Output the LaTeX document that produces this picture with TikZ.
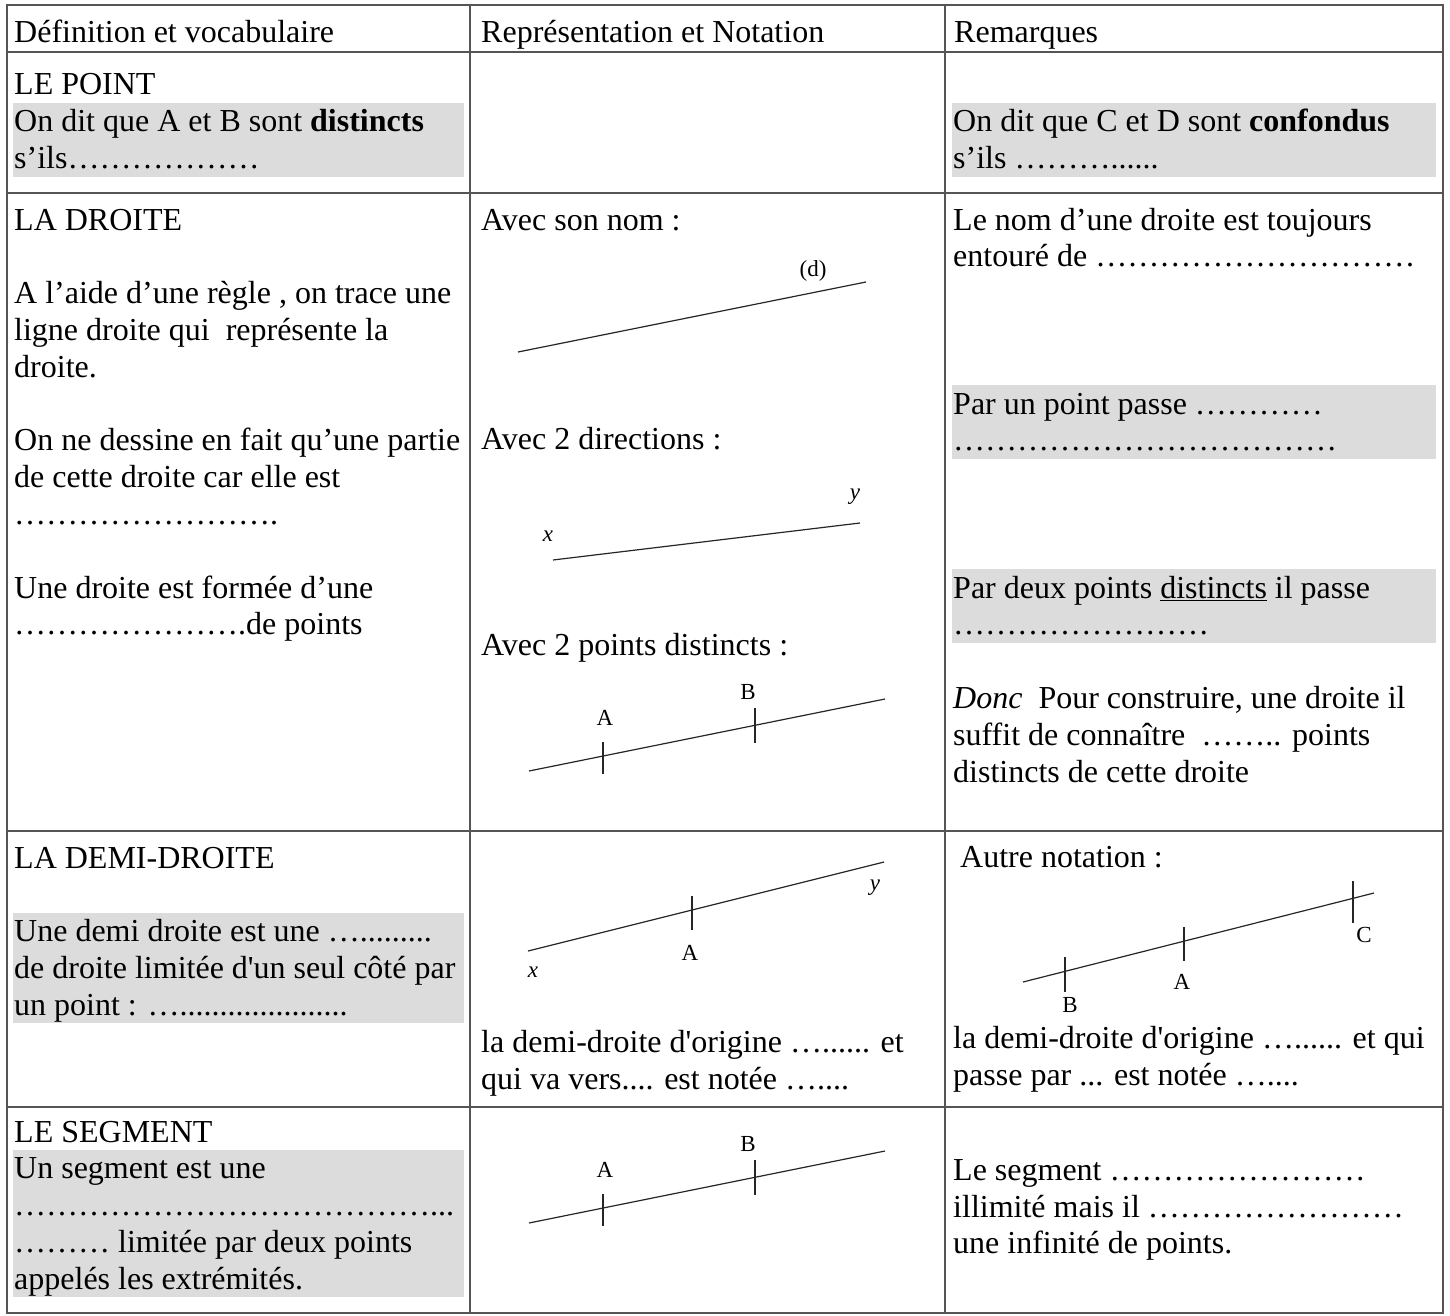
\documentclass[tikz,border=0pt]{standalone}
\usepackage{fontspec}
\newfontfamily\tnr{Liberation Serif}
\definecolor{boxgray}{RGB}{220,220,220}
\definecolor{rulegray}{RGB}{85,85,85}
\newcommand{\ellips}[1]{\foreach \i in {1,...,#1}{…}}
\begin{document}
\begin{tikzpicture}[x=1pt,y=-1pt,
  txt/.style={anchor=base west, inner sep=0pt, font=\tnr\fontsize{32}{36.8}\selectfont},
  lbl/.style={inner sep=0pt, font=\tnr\fontsize{23}{26}\selectfont},
  ilbl/.style={inner sep=0pt, font=\tnr\fontsize{23}{26}\selectfont\itshape},
  rule/.style={line width=1.5pt, draw=rulegray},
  fig/.style={line width=1.2pt, draw=black!85},
  tick/.style={line width=1.2pt, draw=black!85},
  shade/.style={fill=boxgray, draw=none}]
\useasboundingbox (0,0) rectangle (1450,1316);
\fill[white] (0,0) rectangle (1450,1316);

% ---------- shaded paragraphs ----------
\fill[shade] (13,103) rectangle (464,177);
\fill[shade] (952,103) rectangle (1436,177);
\fill[shade] (952,385) rectangle (1436,459);
\fill[shade] (952,569) rectangle (1436,643);
\fill[shade] (13,912.6) rectangle (464,1023);
\fill[shade] (13,1149.8) rectangle (464,1297);

% ---------- table rules ----------
\draw[rule] (7,5) rectangle (1443,1313);
\draw[rule] (470,5) -- (470,1313);
\draw[rule] (945,5) -- (945,1313);
\draw[rule] (7,52) -- (1443,52);
\draw[rule] (7,193) -- (1443,193);
\draw[rule] (7,831) -- (1443,831);
\draw[rule] (7,1107) -- (1443,1107);

% ---------- header ----------
\node[txt] (h1) at (14,43) {Définition et vocabulaire};
\node[txt] (h2) at (481,43) {Représentation et Notation};
\node[txt] (h3) at (954,43) {Remarques};

% ---------- row 1 ----------
\node[txt] (p0) at (14,95) {LE POINT};
\node[txt] (p1) at (14,132) {On dit que A et B sont \textbf{distincts}};
\node[txt] (p2) at (14,169) {s’ils\ellips{6}};
\node[txt] (q1) at (953,132) {On dit que C et D sont \textbf{confondus}};
\node[txt] (q2) at (953,169) {s’ils \ellips{3}......};

% ---------- row 2, left ----------
\node[txt] (d0) at (14,230) {LA DROITE};
\node[txt] (d1) at (14,303.6) {A l’aide d’une règle , on trace une};
\node[txt] (d2) at (14,340.4) {ligne droite qui~ représente la};
\node[txt] (d3) at (14,377.2) {droite.};
\node[txt] (d4) at (14,450.8) {On ne dessine en fait qu’une partie};
\node[txt] (d5) at (14,487.6) {de cette droite car elle est};
\node[txt] (d6) at (14,524.4) {\ellips{8}.};
\node[txt] (d7) at (14,598) {Une droite est formée d’une};
\node[txt] (d8) at (14,634.8) {\ellips{7}.de points};

% ---------- row 2, middle ----------
\node[txt] (m1) at (481,230) {Avec son nom :};
\node[txt] (m2) at (481,449) {Avec 2 directions :};
\node[txt] (m3) at (481,655) {Avec 2 points distincts :};

% figure: (d)
\coordinate (fd1) at (518,352);
\coordinate (fd2) at (866,282);
\draw[fig] (fd1) -- (fd2);
\node[lbl] (fdl) at (813,271) {(d)};

% figure: x y
\coordinate (fx1) at (553,560);
\coordinate (fx2) at (860,523);
\draw[fig] (fx1) -- (fx2);
\node[ilbl] (fxl) at (548,536) {x};
\node[ilbl] (fyl) at (855,497) {y};

% figure: A B
\coordinate (fa1) at (529,771);
\coordinate (fa2) at (885,699);
\draw[fig] (fa1) -- (fa2);
\coordinate (ta1) at (603,742); \coordinate (ta2) at (603,774);
\coordinate (tb1) at (755,708); \coordinate (tb2) at (755,743);
\draw[tick] (ta1) -- (ta2);
\draw[tick] (tb1) -- (tb2);
\node[lbl] (fal) at (605,718) {A};
\node[lbl] (fbl) at (748,692) {B};

% ---------- row 2, right ----------
\node[txt] (r1) at (953,230) {Le nom d’une droite est toujours};
\node[txt] (r2) at (953,266.8) {entouré de \ellips{10}};
\node[txt] (r3) at (953,414) {Par un point passe \ellips{4}};
\node[txt] (r4) at (953,450.8) {\ellips{12}};
\node[txt] (r5) at (953,598) {Par deux points \underline{distincts} il passe};
\node[txt] (r6) at (953,634.8) {\ellips{8}};
\node[txt] (r7) at (953,708.4) {\textit{Donc}~ Pour construire, une droite il};
\node[txt] (r8) at (953,745.2) {suffit de connaître~ \ellips{2}.. points};
\node[txt] (r9) at (953,782) {distincts de cette droite};

% ---------- row 3 ----------
\node[txt] (e0) at (14,868) {LA DEMI-DROITE};
\node[txt] (e1) at (14,941.6) {Une demi droite est une ….........};
\node[txt] (e2) at (14,978.4) {de droite limitée d'un seul côté par};
\node[txt] (e3) at (14,1015.2) {un point : ….....................};

% figure: demi-droite
\coordinate (fe1) at (528,951);
\coordinate (fe2) at (884,862);
\draw[fig] (fe1) -- (fe2);
\coordinate (te1) at (692,896); \coordinate (te2) at (692,930);
\draw[tick] (te1) -- (te2);
\node[lbl] (fel) at (690,953) {A};
\node[ilbl] (fexl) at (533,972) {x};
\node[ilbl] (feyl) at (875,888) {y};

\node[txt] (n1) at (481,1052) {la demi-droite d'origine …...... et};
\node[txt] (n2) at (481,1089) {qui va vers.... est notée …....};

\node[txt] (s0) at (960,867) {Autre notation :};
% figure: B A C
\coordinate (fc1) at (1023,982);
\coordinate (fc2) at (1374,893);
\draw[fig] (fc1) -- (fc2);
\coordinate (tc1) at (1065,957); \coordinate (tc2) at (1065,992);
\coordinate (tc3) at (1184,927); \coordinate (tc4) at (1184,961);
\coordinate (tc5) at (1353,881); \coordinate (tc6) at (1353,923);
\draw[tick] (tc1) -- (tc2);
\draw[tick] (tc3) -- (tc4);
\draw[tick] (tc5) -- (tc6);
\node[lbl] (fcb) at (1070,1005) {B};
\node[lbl] (fca) at (1182,982) {A};
\node[lbl] (fcc) at (1364,935) {C};
\node[txt] (s1) at (953,1048) {la demi-droite d'origine …...... et qui};
\node[txt] (s2) at (953,1085) {passe par ... est notée …....};

% ---------- row 4 ----------
\node[txt] (g0) at (14,1142) {LE SEGMENT};
\node[txt] (g1) at (14,1178.8) {Un segment est une};
\node[txt] (g2) at (14,1215.6) {\ellips{13}...};
\node[txt] (g3) at (14,1252.4) {\ellips{3} limitée par deux points};
\node[txt] (g4) at (14,1289.2) {appelés les extrémités.};

\coordinate (fg1) at (529,1223);
\coordinate (fg2) at (885,1151);
\draw[fig] (fg1) -- (fg2);
\coordinate (tg1) at (603,1194); \coordinate (tg2) at (603,1226);
\coordinate (tg3) at (755,1160); \coordinate (tg4) at (755,1195);
\draw[tick] (tg1) -- (tg2);
\draw[tick] (tg3) -- (tg4);
\node[lbl] (fgal) at (605,1170) {A};
\node[lbl] (fgbl) at (748,1144) {B};

\node[txt] (k1) at (953,1180) {Le segment \ellips{8}};
\node[txt] (k2) at (953,1217) {illimité mais il \ellips{8}};
\node[txt] (k3) at (953,1253) {une infinité de points.};
\end{tikzpicture}
\end{document}
